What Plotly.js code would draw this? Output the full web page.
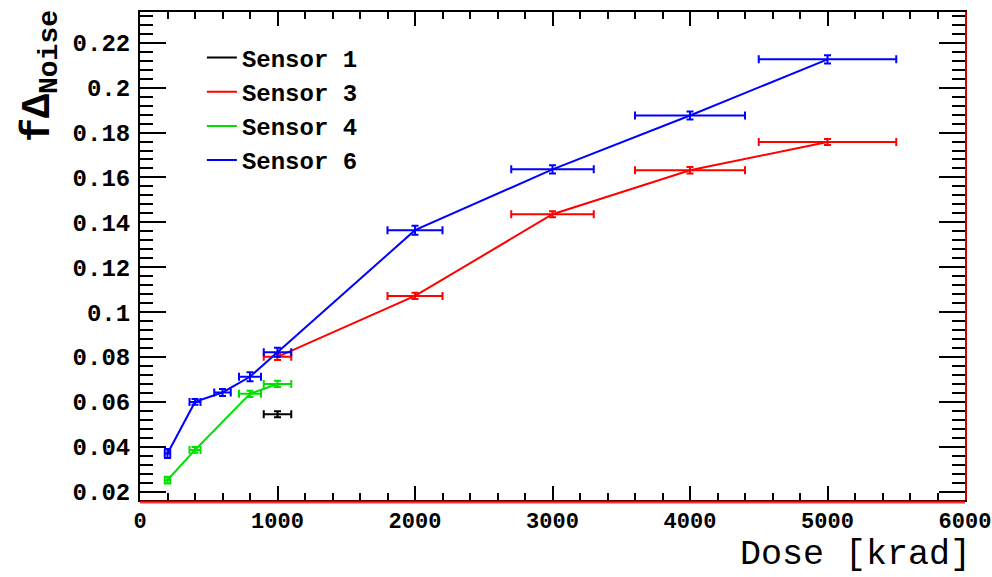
<!DOCTYPE html>
<html>
<head>
<meta charset="utf-8">
<script src="https://cdn.plot.ly/plotly-3.0.1.min.js"></script>
<style>html,body{margin:0;padding:0;background:#fff;}#chart{width:992px;height:577px;}</style>
</head>
<body>
<div id="chart"></div>
<script>
// Data (dose in krad, relative noise change)
const sensorNames = ["Sensor 1", "Sensor 3", "Sensor 4", "Sensor 6"];
const sensorColors = ["#000000", "#ff0000", "#00e000", "#0000ff"];

const s1Dose = [1000];
const s1Val  = [0.0545];
const s1Err  = [0.0013];

const s3Dose = [1000, 2000, 3000, 4000, 5000];
const s3Val  = [0.0801, 0.1072, 0.1436, 0.1632, 0.1758];
const s3Err  = [0.0014, 0.0014, 0.0013, 0.0014, 0.0013];

const s4Dose = [200, 400, 800, 1000];
const s4Val  = [0.0252, 0.0386, 0.0636, 0.0680];
const s4Err  = [0.0015, 0.0013, 0.0014, 0.0014];

const s6Dose = [200, 400, 600, 800, 1000, 2000, 3000, 4000, 5000];
const s6Val  = [0.0370, 0.0600, 0.0642, 0.0712, 0.0821, 0.1365, 0.1636, 0.1876, 0.2126];
const s6Err  = [0.0020, 0.0013, 0.0016, 0.0020, 0.0020, 0.0020, 0.0018, 0.0018, 0.0018];

// horizontal uncertainty: 10% of the dose
const doseRelErr = 0.10;

const doses = [s1Dose, s3Dose, s4Dose, s6Dose];
const vals  = [s1Val, s3Val, s4Val, s6Val];
const errs  = [s1Err, s3Err, s4Err, s6Err];

const traces = sensorNames.map((name, i) => ({
  type: 'scatter',
  mode: 'lines',
  name: name,
  x: doses[i],
  y: vals[i],
  line: {color: sensorColors[i], width: 2},
  error_x: {type: 'percent', value: doseRelErr * 100, color: sensorColors[i], thickness: 2, width: 4},
  error_y: {type: 'data', array: errs[i], color: sensorColors[i], thickness: 2, width: 3.5},
  cliponaxis: false
}));

const monoFam = 'Liberation Mono, Courier New, monospace';

const layout = {
  width: 992, height: 577,
  margin: {l: 140, r: 27, t: 12, b: 77, pad: 0},
  paper_bgcolor: '#fff',
  plot_bgcolor: 'rgba(0,0,0,0)',
  showlegend: true,
  legend: {
    x: 0.075, y: 0.952, xanchor: 'left', yanchor: 'top',
    bgcolor: 'rgba(0,0,0,0)', borderwidth: 0,
    font: {family: monoFam, size: 24, color: '#000', weight: 'bold'},
    tracegroupgap: 0
  },
  xaxis: {
    range: [0, 6000],
    tick0: 0, dtick: 1000,
    ticks: 'inside', ticklen: 14, tickwidth: 2, tickcolor: '#000',
    minor: {dtick: 200, ticks: 'inside', ticklen: 7, tickwidth: 2, tickcolor: '#000'},
    showline: true, linecolor: '#000', linewidth: 2, mirror: 'ticks',
    showgrid: false, zeroline: false,
    tickfont: {family: monoFam, size: 22, color: '#000', weight: 'bold'},
    ticklabelstandoff: 0
  },
  yaxis: {
    range: [0.0163, 0.2337],
    tick0: 0.02, dtick: 0.02,
    ticks: 'inside', ticklen: 26, tickwidth: 2, tickcolor: '#000',
    minor: {dtick: 0.004, ticks: 'inside', ticklen: 13, tickwidth: 2, tickcolor: '#000'},
    showline: true, linecolor: '#000', linewidth: 2, mirror: 'ticks',
    showgrid: false, zeroline: false,
    tickfont: {family: monoFam, size: 24, color: '#000', weight: 'bold'},
    ticklabelstandoff: 3
  },
  shapes: [
    {type: 'line', xref: 'paper', yref: 'paper', x0: 0, x1: 1, ysizemode: 'pixel', yanchor: 0, y0: -2, y1: -2,
     line: {color: 'rgba(255,0,0,0.8)', width: 3}, layer: 'above'},
    {type: 'line', xref: 'paper', yref: 'paper', y0: 0, y1: 1, xsizemode: 'pixel', xanchor: 1, x0: 1, x1: 1,
     line: {color: 'rgba(255,0,0,0.8)', width: 2}, layer: 'above'}
  ],
  annotations: [
    {text: 'Dose [krad]', xref: 'paper', yref: 'paper', x: 1, y: 0, xanchor: 'right', yanchor: 'bottom',
     xshift: 8, yshift: -77, showarrow: false,
     font: {family: monoFam, size: 35, color: '#000'}},
    {text: 'fΔ<sub>Noise</sub>', xref: 'paper', yref: 'paper', x: 0, y: 1, xanchor: 'center', yanchor: 'top',
     xshift: -100, yshift: 4, textangle: -90, showarrow: false,
     font: {family: monoFam, size: 40, color: '#000', weight: 'bold'}}
  ]
};

Plotly.newPlot('chart', traces, layout, {displayModeBar: false, staticPlot: true});
</script>
</body>
</html>
